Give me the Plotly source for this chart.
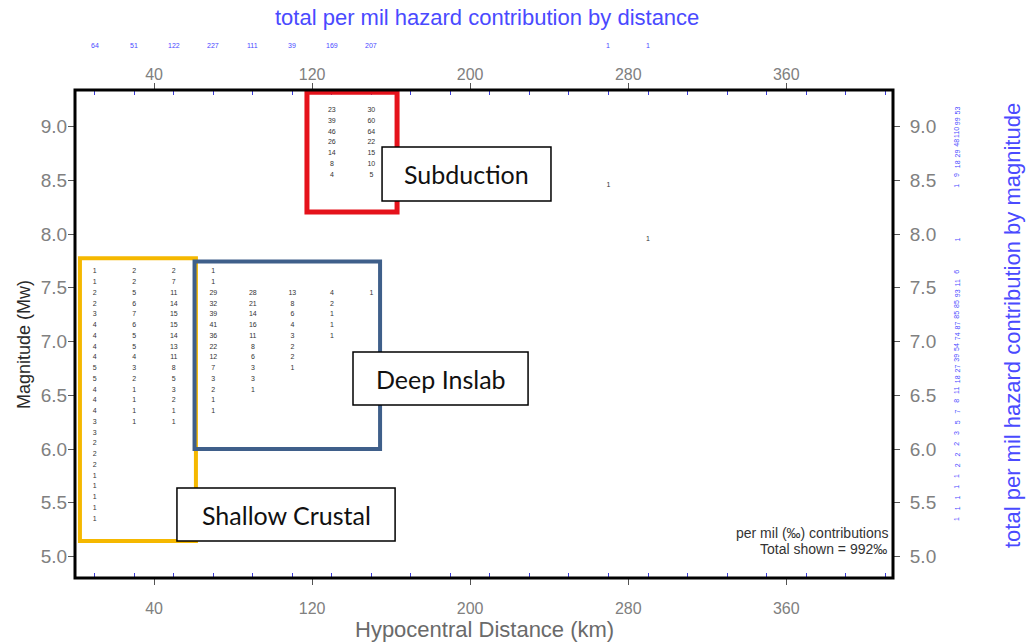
import plotly.graph_objects as go

# Axis extents (hypocentral distance in km, moment magnitude)
X_RANGE = [0, 414]
Y_RANGE = [4.8, 9.34]
MAJOR_TICKS_X = [40, 120, 200, 280, 360]
MAJOR_TICKS_Y = [5.0, 5.5, 6.0, 6.5, 7.0, 7.5, 8.0, 8.5, 9.0]
DIST_BIN_CENTERS = list(range(10, 414, 20))
MAG_STEP = 0.1

# Per-mil contributions per distance bin, listed from the top magnitude bin downward
col_010 = [1, 1, 2, 2, 3, 4, 4, 4, 4, 5, 5, 4, 4, 4, 3, 3, 2, 2, 2, 1, 1, 1, 1, 1]
col_030 = [2, 2, 5, 6, 7, 6, 5, 5, 4, 3, 2, 1, 1, 1, 1]
col_050 = [2, 7, 11, 14, 15, 15, 14, 13, 11, 8, 5, 3, 2, 1, 1]
col_070 = [1, 1, 29, 32, 39, 41, 36, 22, 12, 7, 3, 2, 1, 1]
col_090 = [28, 21, 14, 16, 11, 8, 6, 3, 3, 1]
col_110 = [13, 8, 6, 4, 3, 2, 2, 1]
col_130_inslab = [4, 2, 1, 1, 1]
col_130_sub = [23, 39, 46, 26, 14, 8, 4]
col_150_inslab = [1]
col_150_sub = [30, 60, 64, 22, 15, 10, 5]
col_270 = [1]
col_290 = [1]

# (distance centre, top magnitude bin, values)
columns = [
    (10, 7.65, col_010),
    (30, 7.65, col_030),
    (50, 7.65, col_050),
    (70, 7.65, col_070),
    (90, 7.45, col_090),
    (110, 7.45, col_110),
    (130, 7.45, col_130_inslab),
    (130, 9.15, col_130_sub),
    (150, 7.45, col_150_inslab),
    (150, 9.15, col_150_sub),
    (270, 8.45, col_270),
    (290, 7.95, col_290),
]

# Flatten into point lists
px, py, pt = [], [], []
dist_tot, mag_tot = {}, {}
for d, top, vals in columns:
    for i, v in enumerate(vals):
        m = round(top - i * MAG_STEP, 2)
        px.append(d)
        py.append(m)
        pt.append(str(v))
        dist_tot[d] = dist_tot.get(d, 0) + v
        mag_tot[m] = mag_tot.get(m, 0) + v
total_shown = sum(dist_tot.values())

W, H = 1028, 643
ML, MR, MT, MB = 75, 135, 90, 65
PW, PH = W - ML - MR, H - MT - MB


def paper_x(pix):
    return (pix - ML) / PW


def paper_y(pix):
    return (H - MB - pix) / PH


TICK_GREY = "#808080"
BLUE = "#4a4aff"
FONT = "Liberation Sans, Arial, sans-serif"
LABEL_FONT = "Lato, Carlito, Calibri, sans-serif"

fig = go.Figure()

fig.add_trace(go.Scatter(
    x=px, y=py, text=pt, mode="text",
    textfont=dict(size=7, color="#333333", family=FONT),
    hoverinfo="skip", showlegend=False,
))
# anchor traces for the mirrored top/right axes
fig.add_trace(go.Scatter(x=[None], y=[None], xaxis="x2", yaxis="y2",
                         showlegend=False, hoverinfo="skip"))

axis_common = dict(showgrid=False, zeroline=False, showline=False,
                   ticks="outside", ticklen=6, tickcolor="#555555", tickwidth=1)

fig.update_layout(
    width=W, height=H,
    margin=dict(l=ML, r=MR, t=MT, b=MB),
    paper_bgcolor="white", plot_bgcolor="white",
    font=dict(family=FONT),
    xaxis=dict(range=X_RANGE, tickvals=MAJOR_TICKS_X, **axis_common,
               tickfont=dict(size=16, color=TICK_GREY), ticklabelstandoff=10,
               minor=dict(tickvals=DIST_BIN_CENTERS, ticks="inside", ticklen=5,
                          tickcolor="#3c3cd8", tickwidth=1, showgrid=False)),
    xaxis2=dict(range=X_RANGE, tickvals=MAJOR_TICKS_X, overlaying="x", side="top",
                anchor="y", **axis_common,
                tickfont=dict(size=16, color=TICK_GREY), ticklabelstandoff=-3,
                minor=dict(tickvals=DIST_BIN_CENTERS, ticks="inside", ticklen=5,
                           tickcolor="#3c3cd8", tickwidth=1, showgrid=False)),
    yaxis=dict(range=Y_RANGE, tickvals=MAJOR_TICKS_Y, tickformat=".1f", **axis_common,
               tickfont=dict(size=19, color=TICK_GREY), ticklabelstandoff=-3),
    yaxis2=dict(range=Y_RANGE, tickvals=MAJOR_TICKS_Y, tickformat=".1f",
                overlaying="y", side="right", anchor="x", **axis_common,
                tickfont=dict(size=19, color=TICK_GREY), ticklabelstandoff=6),
)

shapes = []
# tectonic source regions
shapes.append(dict(type="rect", xref="x", yref="y", x0=2.5, x1=61.2, y0=5.145, y1=7.775,
                   line=dict(color="#f5b800", width=4), layer="above"))
shapes.append(dict(type="rect", xref="x", yref="y", x0=60.5, x1=154.4, y0=6.0, y1=7.745,
                   line=dict(color="#3f5f8a", width=4), layer="above"))
shapes.append(dict(type="rect", xref="x", yref="y", x0=117.4, x1=163.0, y0=8.205, y1=9.32,
                   line=dict(color="#e5121b", width=5), layer="above"))
# plot frame
shapes.append(dict(type="rect", xref="paper", yref="paper", x0=0, x1=1, y0=0, y1=1,
                   line=dict(color="black", width=3), layer="above"))

# region label boxes: (text, x0, x1, y0, y1) in data units
region_labels = [
    ("Subduction", 155.4, 240.9, 8.307, 8.809),
    ("Deep Inslab", 140.7, 229.3, 6.409, 6.902),
    ("Shallow Crustal", 51.6, 162.0, 5.144, 5.637),
]
annotations = []
for txt, x0, x1, y0, y1 in region_labels:
    shapes.append(dict(type="rect", xref="x", yref="y", x0=x0, x1=x1, y0=y0, y1=y1,
                       fillcolor="white", line=dict(color="black", width=1.5),
                       layer="above"))
    annotations.append(dict(x=(x0 + x1) / 2, y=(y0 + y1) / 2, xref="x", yref="y",
                            xanchor="center", yanchor="middle",
                            text=txt, showarrow=False,
                            font=dict(size=25, color="#111111", family=LABEL_FONT)))

# distance totals along the top
for d in sorted(dist_tot):
    annotations.append(dict(x=d, y=paper_y(45), xref="x", yref="paper",
                            xanchor="center", yanchor="middle",
                            text=str(dist_tot[d]), showarrow=False,
                            font=dict(size=7, color=BLUE, family=FONT)))
# magnitude totals along the right
for m in sorted(mag_tot):
    annotations.append(dict(x=paper_x(957), y=m, xref="paper", yref="y",
                            xanchor="center", yanchor="middle",
                            text=str(mag_tot[m]), showarrow=False, textangle=-90,
                            font=dict(size=7, color=BLUE, family=FONT)))

# titles
centred = dict(xref="paper", yref="paper", xanchor="center", yanchor="middle",
               showarrow=False)
annotations += [
    dict(x=paper_x(487), y=paper_y(17), **centred,
         text="total per mil hazard contribution by distance",
         font=dict(size=22, color=BLUE, family=FONT)),
    dict(x=paper_x(1012), y=paper_y(326), **centred,
         text="total per mil hazard contribution by magnitude",
         textangle=-90, font=dict(size=22, color=BLUE, family=FONT)),
    dict(x=paper_x(484), y=paper_y(629), **centred,
         text="Hypocentral Distance (km)",
         font=dict(size=22, color="#6a6a6a", family=FONT)),
    dict(x=paper_x(24), y=paper_y(345), **centred,
         text="Magnitude (Mw)", textangle=-90,
         font=dict(size=18, color="#2a2a2a", family=FONT)),
    dict(x=paper_x(891), y=paper_y(533), xref="paper", yref="paper",
         xanchor="right", yanchor="middle", showarrow=False,
         text="per mil (‰) contributions",
         font=dict(size=14, color="#333333", family=FONT)),
    dict(x=paper_x(889), y=paper_y(549), xref="paper", yref="paper",
         xanchor="right", yanchor="middle", showarrow=False,
         text="Total shown = %d‰" % total_shown,
         font=dict(size=14, color="#333333", family=FONT)),
]

fig.update_layout(shapes=shapes, annotations=annotations)
fig.write_html("out.html")
